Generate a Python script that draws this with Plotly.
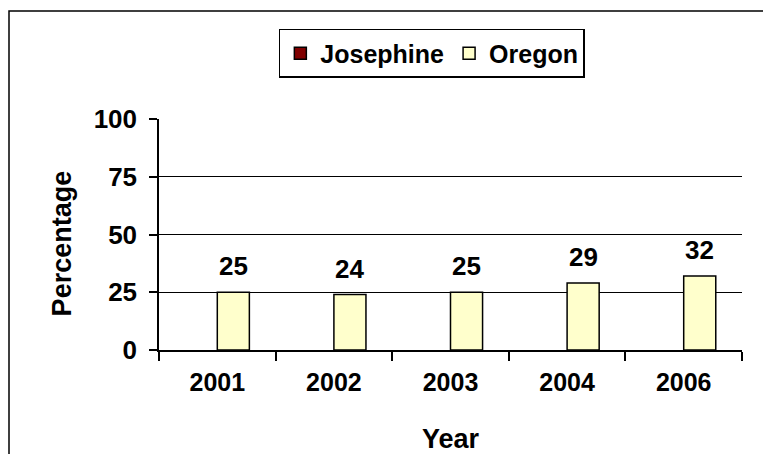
import plotly.graph_objects as go

years = ["2001", "2002", "2003", "2004", "2006"]
josephine = [None, None, None, None, None]
oregon = [25, 24, 25, 29, 32]
oregon_labels = ["25", "24", "25", "29", "32"]
y_ticks = [0, 25, 50, 75, 100]

FONT = "Liberation Sans, Arial, sans-serif"


def bold(size):
    return dict(family=FONT, size=size, color="black", weight="bold")


fig = go.Figure()
fig.add_trace(go.Bar(
    name="Josephine", x=years, y=josephine,
    marker=dict(color="#800000", line=dict(color="black", width=1.5)),
))
fig.add_trace(go.Bar(
    name="Oregon", x=years, y=oregon,
    marker=dict(color="#FFFFCC", line=dict(color="black", width=1.5)),
))

for i, (v, lab) in enumerate(zip(oregon, oregon_labels)):
    fig.add_annotation(x=i, y=v, xref="x", yref="y", text=lab, showarrow=False,
                       xshift=16, yshift=26, yanchor="middle", font=bold(26))

fig.add_annotation(text="Year", xref="paper", yref="paper", x=0.5, y=-0.385,
                   yanchor="middle", showarrow=False, font=bold(27))
fig.add_annotation(text="Percentage", xref="paper", yref="paper", x=-0.167, y=0.46,
                   textangle=-90, xanchor="center", yanchor="middle", showarrow=False,
                   font=bold(27))

# outer frame (left and top edges visible)
fig.add_shape(type="rect", xref="paper", yref="paper",
              x0=(9 - 159) / 583, x1=1.2, y0=-0.6, y1=(350 - 11) / 231,
              line=dict(color="black", width=1.5), layer="below")

fig.update_layout(
    width=763, height=454,
    margin=dict(l=159, r=21, t=119, b=104),
    paper_bgcolor="white", plot_bgcolor="white",
    barmode="group", bargap=0.45, bargroupgap=0,
    showlegend=True,
    legend=dict(orientation="h", x=0.468, xanchor="center", y=1.39, yanchor="top",
                bgcolor="white", bordercolor="black", borderwidth=1.5,
                font=bold(25), traceorder="normal"),
    xaxis=dict(type="category", range=[-0.5, 4.5], showline=True, linecolor="black",
               linewidth=1.5, ticks="outside", tickson="boundaries", ticklen=9,
               tickcolor="black", tickwidth=1.5, showgrid=False, tickfont=bold(25),
               ticklabelstandoff=9),
    yaxis=dict(range=[0, 100], tickvals=y_ticks, showline=True, linecolor="black",
               linewidth=1.5, ticks="outside", ticklen=8, tickcolor="black", tickwidth=1.5,
               showgrid=True, gridcolor="black", gridwidth=1, zeroline=False,
               tickfont=bold(26), ticklabelstandoff=7),
)

fig.write_html("out.html", config={"displayModeBar": False},
               post_script="document.body.style.margin='0';")
